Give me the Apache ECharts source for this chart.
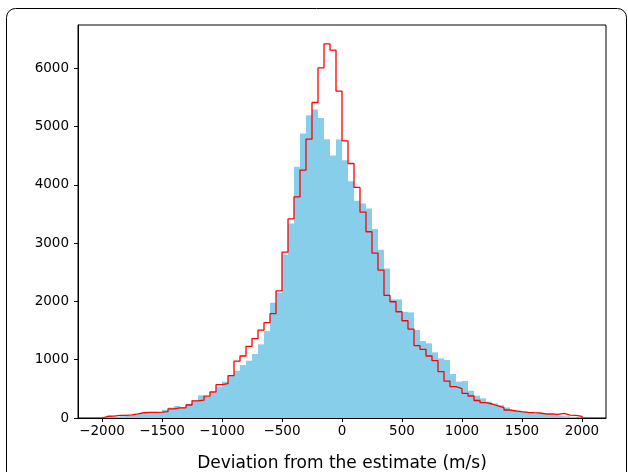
<!DOCTYPE html>
<html>
<head>
<meta charset="utf-8">
<script src="https://cdn.jsdelivr.net/npm/echarts@6/dist/echarts.min.js"></script>
<style>
  html, body { margin: 0; padding: 0; background: #fff; }
  #chart { width: 628px; height: 472px; }
</style>
</head>
<body>
<div id="chart"></div>
<script>
// histogram bins: 50 m/s wide, from -2000 to 2000
const BIN_START = -2000;
const BIN_WIDTH = 50;

// filled histogram (sky blue), one count per bin
const filledCounts = [
  10, 15, 20, 30, 40, 55, 70, 85, 90, 100,
  140, 180, 205, 190, 245, 300, 390, 360, 423, 537,
  623, 726, 811, 908, 983, 1097, 1263, 1491, 1977, 2150,
  2800, 3337, 4308, 4880, 5194, 5291, 5147, 4782, 4503, 4776,
  4422, 4062, 3725, 3680, 3594, 3240, 2885, 2566, 2034, 2034,
  1822, 1811, 1508, 1320, 1280, 1126, 1023, 994, 754, 623,
  634, 468, 383, 337, 280, 250, 220, 180, 130, 115,
  105, 100, 80, 70, 60, 50, 40, 30, 20, 10
];

// step histogram (red outline), one count per bin
const stepCounts = [
  30, 32, 45, 45, 55, 70, 90, 95, 97, 100,
  109, 158, 175, 175, 223, 295, 305, 375, 446, 571,
  589, 726, 977, 1063, 1230, 1363, 1508, 1634, 1790, 2180,
  2845, 3415, 3794, 4251, 4782, 5411, 6005, 6416, 6308, 5605,
  4753, 4365, 3954, 3531, 3194, 2828, 2537, 2103, 1994, 1822,
  1668, 1525, 1240, 1177, 1063, 983, 794, 634, 537, 503,
  423, 377, 300, 263, 240, 206, 177, 137, 120, 108,
  97, 91, 86, 69, 69, 63, 80, 51, 46, 29
];

const xTicks = [-2000, -1500, -1000, -500, 0, 500, 1000, 1500, 2000];
const yTicks = [0, 1000, 2000, 3000, 4000, 5000, 6000];

const barData = filledCounts.map((v, i) => [BIN_START + i * BIN_WIDTH, BIN_START + (i + 1) * BIN_WIDTH, v]);

const stepData = [[BIN_START, 0]];
stepCounts.forEach((v, i) => stepData.push([BIN_START + i * BIN_WIDTH, v]));
const lastEdge = BIN_START + stepCounts.length * BIN_WIDTH;
stepData.push([lastEdge, stepCounts[stepCounts.length - 1]]);
stepData.push([lastEdge, 0]);

function fmtTick(v) {
  return v < 0 ? "\u2212" + Math.abs(v) : String(v);
}

const chart = echarts.init(document.getElementById("chart"), null, { renderer: "canvas" });

chart.setOption({
  animation: false,
  backgroundColor: "#fff",
  textStyle: { fontFamily: "DejaVu Sans" },
  graphic: [
    {
      type: "rect",
      shape: { x: 6.5, y: 8.5, width: 620, height: 490, r: 9 },
      style: { fill: "none", stroke: "#000", lineWidth: 1 },
      z: -1
    }
  ],
  grid: {
    left: 78,
    top: 25,
    right: 22,
    bottom: 54,
    outerBoundsMode: "none",
    containLabel: false,
    show: true,
    borderColor: "#000",
    borderWidth: 1,
    backgroundColor: "transparent"
  },
  xAxis: {
    type: "value",
    min: -2200,
    max: 2200,
    name: "Deviation from the estimate (m/s)",
    nameLocation: "middle",
    nameGap: 37,
    nameTextStyle: { fontSize: 17, color: "#000", fontFamily: "DejaVu Sans" },
    splitLine: { show: false },
    axisLine: { show: true, onZero: false, lineStyle: { color: "#000", width: 1 } },
    axisTick: { show: true, length: 4, lineStyle: { color: "#000" }, customValues: xTicks },
    axisLabel: {
      color: "#000",
      fontSize: 13.5,
      margin: 6,
      customValues: xTicks,
      formatter: fmtTick
    }
  },
  yAxis: {
    type: "value",
    min: 0,
    max: 6740,
    splitLine: { show: false },
    axisLine: { show: true, onZero: false, lineStyle: { color: "#000", width: 1 } },
    axisTick: { show: true, length: 4, lineStyle: { color: "#000" }, customValues: yTicks },
    axisLabel: {
      color: "#000",
      fontSize: 13.5,
      margin: 9,
      customValues: yTicks,
      formatter: fmtTick
    }
  },
  series: [
    {
      name: "filled",
      type: "custom",
      data: barData,
      encode: { x: [0, 1], y: 2 },
      renderItem: (params, api) => {
        const p0 = api.coord([api.value(0), api.value(2)]);
        const p1 = api.coord([api.value(1), 0]);
        return {
          type: "rect",
          shape: { x: p0[0], y: p0[1], width: p1[0] - p0[0], height: p1[1] - p0[1] },
          style: { fill: "#87CEEB", stroke: null }
        };
      },
      z: 2
    },
    {
      name: "step",
      type: "line",
      data: stepData,
      step: "end",
      showSymbol: false,
      lineStyle: { color: "#ff0000", width: 1.3 },
      z: 3
    }
  ]
});
</script>
</body>
</html>
